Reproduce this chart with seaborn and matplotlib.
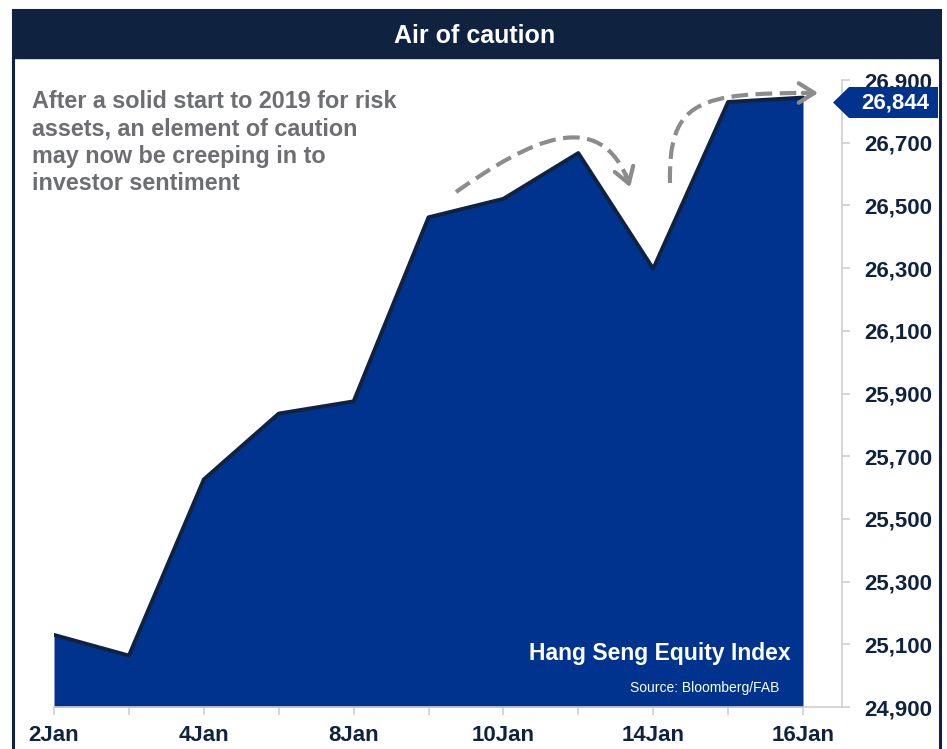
import numpy as np
import pandas as pd
import matplotlib
matplotlib.use("Agg")
import matplotlib.pyplot as plt
import seaborn as sns
from matplotlib.patches import Rectangle, Polygon, FancyArrowPatch, PathPatch
from matplotlib.path import Path

# ---- data ----
dates = ["2Jan", "3Jan", "4Jan", "7Jan", "8Jan", "9Jan", "10Jan", "11Jan", "14Jan", "15Jan", "16Jan"]
values = [25130, 25064, 25626, 25836, 25875, 26462, 26521, 26667, 26298, 26830, 26844]
x_tick_labels = ["2Jan", "4Jan", "8Jan", "10Jan", "14Jan", "16Jan"]
y_ticks = [24900, 25100, 25300, 25500, 25700, 25900, 26100, 26300, 26500, 26700, 26900]
last_label = "26,844"
title = "Air of caution"
note = "After a solid start to 2019 for risk\nassets, an element of caution\nmay now be creeping in to\ninvestor sentiment"
series_name = "Hang Seng Equity Index"
source = "Source: Bloomberg/FAB"

sns.set_theme(style="white")
plt.rcParams["font.family"] = ["Liberation Sans", "DejaVu Sans"]

NAVY = "#0f2340"
BLUE = "#00338d"
GRAY_TXT = "#6d6e71"
ARROW = "#8c8c8c"
AXIS = "#d0d0d0"

W, H = 947, 749
fig = plt.figure(figsize=(W / 100, H / 100), dpi=100)
fig.patch.set_facecolor("white")

def fx(x):
    return x / W

def fy(y):
    return 1 - y / H

df = pd.DataFrame({"pos": np.arange(len(dates)), "date": dates, "value": values})

ax = fig.add_axes([fx(54), fy(707), fx(842) - fx(54), fy(80) - fy(707)])
ax.set_facecolor("none")
ax.fill_between(df["pos"], df["value"], y_ticks[0], color=BLUE, lw=0, zorder=1)
sns.lineplot(data=df, x="pos", y="value", ax=ax, color=NAVY, lw=2.8, zorder=2)

ax.set_xlim(0, (len(dates) - 1) * 788 / 749)
ax.set_ylim(y_ticks[0], y_ticks[-1])
ax.set_xlabel("")
ax.set_ylabel("")

ax.set_xticks(df["pos"])
ax.set_xticklabels([d if d in x_tick_labels else "" for d in dates])
ax.yaxis.tick_right()
ax.set_yticks(y_ticks)
ax.set_yticklabels([f"{v:,}" for v in y_ticks])

for s in ["top", "left"]:
    ax.spines[s].set_visible(False)
for s in ["right", "bottom"]:
    ax.spines[s].set_visible(True)
    ax.spines[s].set_color(AXIS)
    ax.spines[s].set_linewidth(1.2)

ax.tick_params(axis="x", direction="out", length=6, width=1.2, color=AXIS,
               labelsize=16, labelcolor=NAVY, pad=7, bottom=True)
ax.tick_params(axis="y", direction="out", length=6, width=1.2, color=AXIS,
               labelsize=16, labelcolor=NAVY, pad=10, right=True, left=False)
for lab in ax.get_xticklabels() + ax.get_yticklabels():
    lab.set_fontweight("bold")

# series name and source inside the area
ax.text(0.935, 0.085, series_name, transform=ax.transAxes, ha="right", va="center",
        color="white", fontsize=16.5, fontweight="bold", zorder=5)
fig.text(fx(779), fy(688), source, ha="right", va="center", color="white", fontsize=10)

# frame and title bar
fig.patches.append(Rectangle((fx(13), fy(760)), fx(940) - fx(13), fy(10) - fy(760),
                             transform=fig.transFigure, fill=False, edgecolor=NAVY, lw=2.2, zorder=10))
fig.patches.append(Rectangle((fx(13), fy(58)), fx(940) - fx(13), fy(10) - fy(58),
                             transform=fig.transFigure, facecolor=NAVY, edgecolor=NAVY, zorder=10))
fig.text(fx(475), fy(36), title, ha="center", va="center", color="white",
         fontsize=18, fontweight="bold", zorder=11)

# note
fig.text(fx(32), fy(90), note, ha="left", va="top", color=GRAY_TXT, fontsize=16.8,
         fontweight="bold", linespacing=1.24)

# last value label
poly = [(833, 102.5), (849, 87), (938, 87), (938, 118), (849, 118)]
fig.patches.append(Polygon([(fx(a), fy(b)) for a, b in poly], closed=True,
                           transform=fig.transFigure, facecolor=BLUE, edgecolor="none", zorder=6))
fig.text(fx(895), fy(103), last_label, ha="center", va="center", color="white",
         fontsize=16, fontweight="bold", zorder=7)

# dashed curved arrows
def dashed_curve(pts, head_from, head_to):
    verts = [(fx(a), fy(b)) for a, b in pts]
    codes = [Path.MOVETO, Path.CURVE4, Path.CURVE4, Path.CURVE4]
    p = PathPatch(Path(verts, codes), transform=fig.transFigure, fill=False,
                  edgecolor=ARROW, lw=3, linestyle=(0, (4, 1.8)), zorder=8)
    fig.patches.append(p)
    a = FancyArrowPatch((fx(head_from[0]), fy(head_from[1])), (fx(head_to[0]), fy(head_to[1])),
                        transform=fig.transFigure, arrowstyle="->,head_length=0.8,head_width=0.5",
                        color=ARROW, lw=3, mutation_scale=14, zorder=8)
    fig.patches.append(a)

dashed_curve([(456, 192), (530, 140), (600, 105), (629, 183)], (625, 172), (631, 190))
dashed_curve([(670, 183), (668, 100), (700, 93), (810, 93)], (800, 93), (821, 93))

fig.savefig("out.png", dpi=100)
